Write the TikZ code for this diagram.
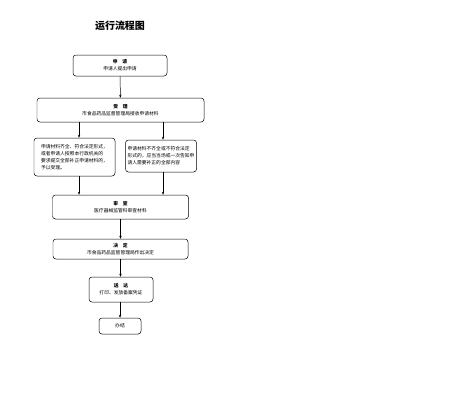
\documentclass[tikz,border=0pt]{standalone}
\usepackage{fontspec}
\newfontfamily\cjk{Noto Sans CJK SC}
\usepackage{tikz}
\usetikzlibrary{positioning,arrows.meta,calc}

\begin{document}
\begin{tikzpicture}[x=1bp,y=-1bp,
    etape/.style={draw,rounded corners=3bp,line width=0.5pt,align=center,
        inner sep=1bp,font=\cjk\fontsize{4.8}{7}\selectfont},
    note/.style={etape,align=left},
    fleche/.style={-{Stealth[length=3bp,width=2.4bp]},line width=0.5pt}]
    \useasboundingbox (0,0) rectangle (476,400);

    % Titre
    \node[font=\cjk\bfseries\fontsize{10}{12}\selectfont] (titre) at (120,26) {运行流程图};

    % Etapes
    \node[etape,minimum width=94bp,minimum height=21bp] (demande) at (120,65.5)
        {\textbf{申\quad 请}\\申请人提出申请};
    \node[etape,minimum width=167bp,minimum height=24bp] (accept) at (120.5,110)
        {\textbf{受\quad 理}\\市食品药品监督管理局接收申请材料};
    \node[note,minimum width=81bp,minimum height=38bp] (oui) at (74.5,157)
        {申请材料齐全、符合法定形式，\\或者申请人按照本行政机关的\\要求提交全部补正申请材料的，\\予以受理。};
    \node[note,minimum width=71bp,minimum height=32bp] (non) at (161,156)
        {申请材料不齐全或不符合法定\\形式的，应当当场或一次告知申\\请人需要补正的全部内容};
    \node[etape,minimum width=136bp,minimum height=24bp] (examen) at (120.5,207)
        {\textbf{审\quad 查}\\医疗器械监管科审查材料};
    \node[etape,minimum width=135bp,minimum height=20bp] (decision) at (120.5,249)
        {\textbf{决\quad 定}\\市食品药品监督管理局作出决定};
    \node[etape,minimum width=64bp,minimum height=25bp] (envoi) at (121,289.5)
        {\textbf{送\quad 达}\\打印、发放备案凭证};
    \node[etape,minimum width=42bp,minimum height=16bp] (fin) at (120,326) {办结};

    % Fleches
    \coordinate (g) at (79,0);
    \coordinate (d) at (163,0);
    \draw[fleche] (demande) -- (accept);
    \draw[fleche] (g |- accept.south) -- (g |- oui.north);
    \draw[fleche] (d |- accept.south) -- (d |- non.north);
    \draw[fleche] (g |- oui.south) -- (g |- examen.north);
    \draw[fleche] (d |- non.south) -- (d |- examen.north);
    \draw[fleche] (examen) -- (examen |- decision.north);
    \draw[fleche] (decision) -- (decision |- envoi.north);
    \draw[fleche] (envoi.south -| fin) -- (fin);
\end{tikzpicture}
\end{document}
